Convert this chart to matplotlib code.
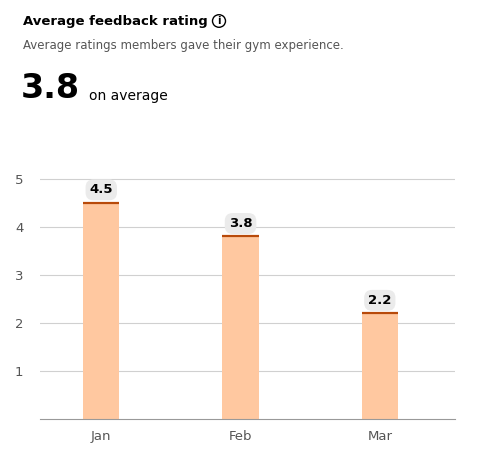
import matplotlib.pyplot as plt
from matplotlib.patches import Circle

months = ["Jan", "Feb", "Mar"]
ratings = [4.5, 3.8, 2.2]
yticks = [1, 2, 3, 4, 5]

W, H = 480, 465
fig = plt.figure(figsize=(4.8, 4.65), dpi=100)
ax = fig.add_axes([40 / W, 46 / H, 415 / W, 269 / H])

x = list(range(len(months)))
ax.bar(x, ratings, width=0.26, color="#FFC8A0", zorder=2)
# dark top edge on each bar
for xi, v in zip(x, ratings):
    ax.plot([xi - 0.13, xi + 0.13], [v, v], color="#B84A0A", lw=1.6, zorder=3, solid_capstyle="butt")
    ax.text(xi, v + 0.27, f"{v:.1f}", ha="center", va="center", fontsize=9.5, fontweight="bold",
            bbox=dict(boxstyle="round,pad=0.3,rounding_size=0.6", fc="#EBEBEB", ec="none"), zorder=4)

ax.set_xlim(-0.44, 2.54)
ax.set_ylim(0, 5.6)
ax.set_yticks(yticks)
ax.set_xticks(x, months)
ax.grid(axis="y", color="#D0D0D0", lw=0.8, zorder=0)
for s in ["top", "right", "left"]:
    ax.spines[s].set_visible(False)
ax.spines["bottom"].set_color("#999999")
ax.tick_params(length=0, colors="#555555", labelsize=9.5)
ax.tick_params(axis="y", pad=12)
ax.tick_params(axis="x", pad=8)

fig.text(23 / W, 1 - 22 / H, "Average feedback rating", fontsize=9.5, fontweight="bold", va="center")
# info icon
fig.patches.append(Circle((219 / W, 1 - 21 / H), 6.5 / W, transform=fig.transFigure,
                          fill=False, ec="black", lw=1.0))
fig.text(219 / W, 1 - 21 / H, "i", fontsize=7, fontweight="bold", ha="center", va="center")
fig.text(23 / W, 1 - 46 / H, "Average ratings members gave their gym experience.", fontsize=8.5,
         color="#555555", va="center")
fig.text(21 / W, 1 - 88 / H, "3.8", fontsize=24, fontweight="bold", va="center")
fig.text(89 / W, 1 - 96 / H, "on average", fontsize=10, va="center")

fig.savefig("out.png", dpi=100)
